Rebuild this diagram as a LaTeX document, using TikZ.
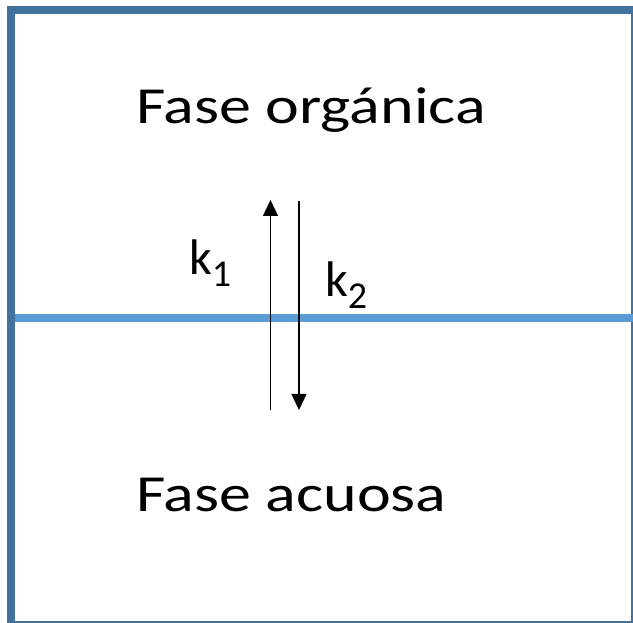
\documentclass[tikz,border=0pt]{standalone}
\usepackage{fontspec}
\setmainfont{Carlito}
\newfontfamily\phasefont[FakeStretch=1.23]{Carlito}
\usetikzlibrary{arrows.meta}
\definecolor{framecolor}{RGB}{65,113,156}
\definecolor{interfacecolor}{RGB}{91,155,213}
\tikzset{
	phaselabel/.style={
		anchor=base west, inner sep=0pt,
		font=\phasefont\fontsize{52}{52}\selectfont
	},
	ratelabel/.style={
		anchor=base west, inner sep=0pt,
		font=\fontsize{50}{50}\selectfont
	},
	fluxarrow/.style={
		-{Triangle[length=16pt, width=15pt]}, line width=1.3pt, color=black
	},
	interface/.style={
		draw=interfacecolor, line width=8pt
	}
}
\newcommand{\ratek}[1]{k\raisebox{-12pt}{\fontsize{38}{38}\selectfont #1}}

\begin{document}
\begin{tikzpicture}[x=1pt, y=1pt]
	\useasboundingbox (0,0) rectangle (633,623);
	
	%% ═══════════════════════════════
	%%  FRAME
	%% ═══════════════════════════════
	\fill[framecolor] (7,0) rectangle (15,617);
	\fill[framecolor] (7,609) rectangle (633,617);
	\fill[framecolor] (631,0) rectangle (633,617);
	\fill[framecolor] (7,0) rectangle (633,2);
	
	%% ═══════════════════════════════
	%%  INTERFACE
	%% ═══════════════════════════════
	\coordinate (ifleft)  at (15,305);
	\coordinate (ifright) at (633,305);
	\draw[interface] (ifleft) -- (ifright);
	
	%% ═══════════════════════════════
	%%  PHASES
	%% ═══════════════════════════════
	\node[phaselabel] (organic) at (136,499) {Fase orgánica};
	\node[phaselabel] (aqueous) at (136,111) {Fase acuosa};
	
	%% ═══════════════════════════════
	%%  ARROWS
	%% ═══════════════════════════════
	\coordinate (uplow)   at (270.5,213);
	\coordinate (uphigh)  at (270.5,423);
	\coordinate (downhigh) at (299,422);
	\coordinate (downlow)  at (299,213);
	
	% aqueous -> organic
	\draw[fluxarrow] (uplow) -- (uphigh);
	
	% organic -> aqueous
	\draw[fluxarrow] (downhigh) -- (downlow);
	
	\node[ratelabel] (kone) at (189,348) {\ratek{1}};
	\node[ratelabel] (ktwo) at (325,326) {\ratek{2}};
	
\end{tikzpicture}
\end{document}
